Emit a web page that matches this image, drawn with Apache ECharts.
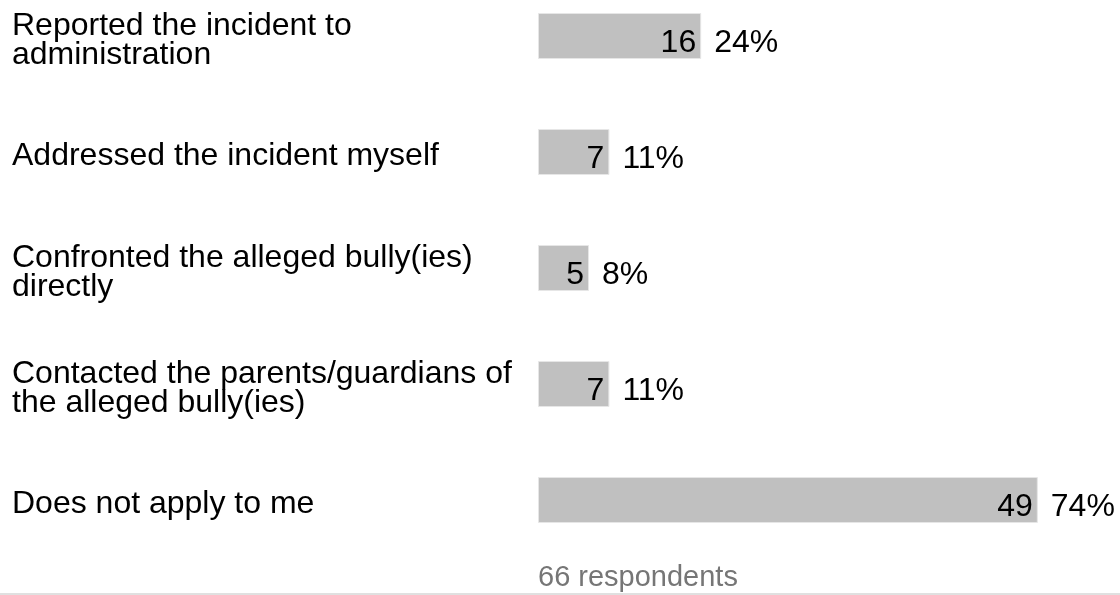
<!DOCTYPE html>
<html>
<head>
<meta charset="utf-8">
<script src="https://cdn.jsdelivr.net/npm/echarts@6/dist/echarts.min.js"></script>
<style>
html,body{margin:0;padding:0;background:#fff;}
#c{width:1120px;height:595px;}
</style>
</head>
<body>
<div id="c"></div>
<script>
const categories = [
  "Reported the incident to administration",
  "Addressed the incident myself",
  "Confronted the alleged bully(ies) directly",
  "Contacted the parents/guardians of the alleged bully(ies)",
  "Does not apply to me"
];
const counts = [16, 7, 5, 7, 49];
const percents = ["24%", "11%", "8%", "11%", "74%"];
const respondents = 66;

const FONT = '"Liberation Sans", Arial, sans-serif';
const chart = echarts.init(document.getElementById('c'), null, {renderer: 'canvas'});
chart.setOption({
  animation: false,
  backgroundColor: '#fff',
  grid: {left: 538, right: 21, top: -22, height: 580, containLabel: false, outerBoundsMode: 'none'},
  xAxis: {type: 'value', min: 0, max: 55, show: false},
  yAxis: {
    type: 'category', data: categories, inverse: true,
    axisLine: {show: false}, axisTick: {show: false}, splitLine: {show: false},
    axisLabel: {
      align: 'left', margin: 526, width: 515, overflow: 'break',
      fontSize: 32, lineHeight: 29, color: '#000', fontFamily: FONT,
      formatter: v => '{t|' + v + '}',
      rich: {t: {fontSize: 32, lineHeight: 29, color: '#000', fontFamily: FONT, padding: [9, 0, 0, 0]}}
    }
  },
  series: [
    {
      type: 'bar', data: counts, barWidth: 46,
      itemStyle: {color: '#c0c0c0', borderColor: '#e6e6e6', borderWidth: 1},
      label: {show: true, position: 'insideRight', distance: 5, color: '#000',
              fontSize: 32, fontFamily: FONT, offset: [0, 7]},
      z: 2
    },
    {
      type: 'bar', data: counts, barWidth: 46, barGap: '-100%',
      itemStyle: {color: 'rgba(0,0,0,0)'},
      label: {show: true, position: 'right', distance: 13, color: '#000',
              fontSize: 32, fontFamily: FONT, offset: [0, 7],
              formatter: p => percents[p.dataIndex]},
      z: 3
    }
  ],
  graphic: [
    {type: 'text', x: 538, y: 578,
     style: {text: respondents + ' respondents', fill: '#767676', font: '29px ' + FONT, verticalAlign: 'middle'}},
    {type: 'rect', shape: {x: 0, y: 593, width: 1120, height: 2}, style: {fill: '#e0e0e0'}}
  ]
});
</script>
</body>
</html>
